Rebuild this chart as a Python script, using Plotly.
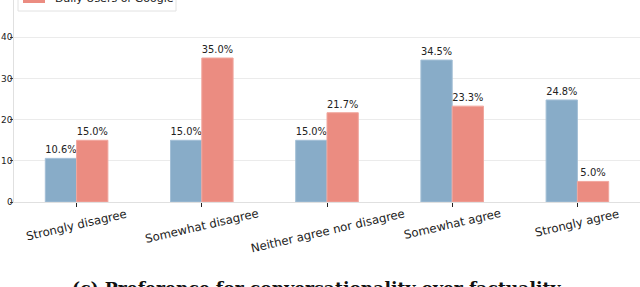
import plotly.graph_objects as go

categories = ["Strongly disagree", "Somewhat disagree", "Neither agree nor disagree",
              "Somewhat agree", "Strongly agree"]
series_a_name = "Daily Users of ChatGPT"
series_a = [10.6, 15.0, 15.0, 34.5, 24.8]
series_b_name = "Daily Users of Google"
series_b = [15.0, 35.0, 21.7, 23.3, 5.0]
y_ticks = [0, 10, 20, 30, 40]
caption = "(c) Preference for conversationality over factuality"

BLUE = "#88acc8"
RED = "#eb8c81"
FONT = "DejaVu Sans"

x_idx = list(range(len(categories)))

fig = go.Figure()
for name, vals, col, edge in [(series_a_name, series_a, BLUE, "#a3bfd6"),
                              (series_b_name, series_b, RED, "#f1a79e")]:
    fig.add_trace(go.Bar(
        x=x_idx, y=vals, name=name,
        marker=dict(color=col, line=dict(color=edge, width=1)),
        texttemplate="%{y:.1f}%", textposition="outside",
        textfont=dict(family=FONT, size=10, color="#222222"),
        cliponaxis=False, showlegend=False,
    ))

annotations = []
for i, c in enumerate(categories):
    annotations.append(dict(
        x=i, y=0, xref="x", yref="paper", text=c, showarrow=False,
        textangle=-13, xanchor="center", yanchor="top", yshift=-2,
        font=dict(family=FONT, size=11.7, color="#222222"),
    ))

# y tick labels placed tight against the tick marks
for t in y_ticks:
    annotations.append(dict(
        x=0, y=t, xref="paper", yref="y", text=str(t), showarrow=False,
        xanchor="right", yanchor="middle", xshift=0, borderpad=0,
        font=dict(family=FONT, size=9, color="#222222"),
    ))

annotations.append(dict(
    x=0.484, y=-0.365, xref="paper", yref="paper",
    text="<b>" + caption + "</b>", showarrow=False,
    xanchor="center", yanchor="top",
    font=dict(family="DejaVu Serif", size=17.2, color="#111111"),
))

# Legend (partially cut at top of the figure)
annotations.append(dict(
    x=0.0623, y=1.005, xref="paper", yref="paper", text=series_b_name,
    showarrow=False, xanchor="left", yanchor="middle",
    font=dict(family=FONT, size=11, color="#222222"),
))

shapes = [
    dict(type="rect", xref="paper", yref="paper", x0=0.0064, x1=0.2588,
         y0=0.9455, y1=1.3, line=dict(color="#e2e2e2", width=1),
         fillcolor="rgba(255,255,255,0.9)", layer="above"),
    dict(type="rect", xref="paper", yref="paper", x0=0.0144, x1=0.0495,
         y0=0.985, y1=1.06, line=dict(width=0), fillcolor=RED, layer="above"),
]

fig.update_layout(
    width=640, height=287,
    margin=dict(l=14, r=0, t=0, b=85, autoexpand=False),
    paper_bgcolor="white", plot_bgcolor="white",
    barmode="group", bargap=0.5, bargroupgap=0,
    annotations=annotations, shapes=shapes,
    font=dict(family=FONT),
)
fig.update_xaxes(
    range=[-0.5, 4.5], tickvals=x_idx, ticktext=[""] * len(x_idx),
    showline=True, linecolor="#e0e0e0", linewidth=1,
    ticks="outside", ticklen=4, tickcolor="#222222", tickwidth=1,
    showgrid=False, zeroline=False,
)
fig.update_yaxes(
    range=[0, 49.1], tickvals=y_ticks, showticklabels=False,
    showline=True, linecolor="#e0e0e0", linewidth=1,
    ticks="outside", ticklen=3, tickcolor="#444444", tickwidth=1,
    showgrid=True, gridcolor="#ebebeb", gridwidth=1, zeroline=False,
)

fig.write_html(
    "out.html",
    config={"displayModeBar": False},
    post_script="document.body.style.margin='0';document.body.style.overflow='hidden';",
)
